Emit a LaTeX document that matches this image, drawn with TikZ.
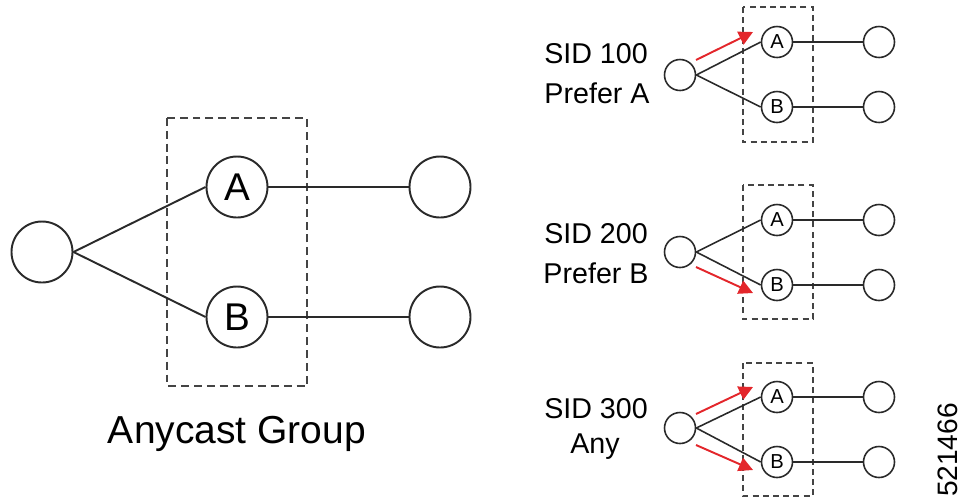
\documentclass[tikz,border=0pt]{standalone}
\usepackage{fontspec}
\setmainfont{Liberation Sans}
\usetikzlibrary{arrows.meta, calc, positioning}

\definecolor{anyred}{HTML}{E3262B}
\definecolor{boxgray}{HTML}{444444}
\definecolor{linkgray}{HTML}{2A2A2A}

\tikzset{
  bignode/.style={circle, draw=linkgray, line width=1.1pt, minimum size=1.22cm, inner sep=0pt, font=\fontsize{22}{22}\selectfont},
  smallnode/.style={circle, draw=linkgray, line width=0.9pt, minimum size=0.62cm, inner sep=0pt, font=\fontsize{11.5}{11.5}\selectfont},
  biglink/.style={draw=linkgray, line width=1.1pt},
  smalllink/.style={draw=linkgray, line width=0.9pt},
  biggroup/.style={draw=boxgray, line width=1.1pt, dash pattern=on 4.5pt off 2.8pt},
  smallgroup/.style={draw=boxgray, line width=0.9pt, dash pattern=on 3.4pt off 2.4pt},
  sidlabel/.style={anchor=base, font=\fontsize{16.3}{16.3}\selectfont},
  prefarrow/.style={draw=anyred, line width=1.1pt, -{Triangle[length=8pt,width=8pt]}}
}

\begin{document}
\begin{tikzpicture}
        \useasboundingbox (0,0) rectangle (19.28,-9.98);

        % anycast group
        \draw[biggroup] (3.34,-2.36) rectangle (6.14,-7.72);
        \node[bignode] (src) at (0.84,-5.04) {};
        \node[bignode] (a) at (4.74,-3.74) {A};
        \node[bignode] (b) at (4.74,-6.34) {B};
        \node[bignode] (ea) at (8.8,-3.74) {};
        \node[bignode] (eb) at (8.8,-6.34) {};
        \draw[biglink] (src.east) -- (a.west);
        \draw[biglink] (src.east) -- (b.west);
        \draw[biglink] (a) -- (ea);
        \draw[biglink] (b) -- (eb);
        \node[anchor=base, font=\fontsize{22.2}{22.2}\selectfont] (grp) at (4.74,-8.86) {Anycast Group};

        % SID 100
        \draw[smallgroup] (14.86,-0.14) rectangle (16.26,-2.84);
        \node[smallnode] (srcI) at (13.6,-1.5) {};
        \node[smallnode] (aI) at (15.54,-0.84) {A};
        \node[smallnode] (bI) at (15.54,-2.14) {B};
        \node[smallnode] (eaI) at (17.58,-0.84) {};
        \node[smallnode] (ebI) at (17.58,-2.14) {};
        \draw[smalllink] (srcI.east) -- (aI.west);
        \draw[smalllink] (srcI.east) -- (bI.west);
        \draw[smalllink] (aI) -- (eaI);
        \draw[smalllink] (bI) -- (ebI);
        \coordinate (pIs) at (13.92,-1.2);
        \coordinate (pIe) at (15.06,-0.64);
        \draw[prefarrow] (pIs) -- (pIe);
        \node[sidlabel] (sidI) at (11.92,-1.26) {SID 100};
        \node[sidlabel] (prefI) at (11.94,-2.06) {Prefer A};

        % SID 200
        \draw[smallgroup] (14.86,-3.7) rectangle (16.26,-6.38);
        \node[smallnode] (srcII) at (13.6,-5.04) {};
        \node[smallnode] (aII) at (15.54,-4.4) {A};
        \node[smallnode] (bII) at (15.54,-5.7) {B};
        \node[smallnode] (eaII) at (17.58,-4.4) {};
        \node[smallnode] (ebII) at (17.58,-5.7) {};
        \draw[smalllink] (srcII.east) -- (aII.west);
        \draw[smalllink] (srcII.east) -- (bII.west);
        \draw[smalllink] (aII) -- (eaII);
        \draw[smalllink] (bII) -- (ebII);
        \coordinate (pIIs) at (13.92,-5.34);
        \coordinate (pIIe) at (15.06,-5.86);
        \draw[prefarrow] (pIIs) -- (pIIe);
        \node[sidlabel] (sidII) at (11.92,-4.86) {SID 200};
        \node[sidlabel] (prefII) at (11.92,-5.66) {Prefer B};

        % SID 300
        \draw[smallgroup] (14.86,-7.26) rectangle (16.26,-9.92);
        \node[smallnode] (srcIII) at (13.6,-8.56) {};
        \node[smallnode] (aIII) at (15.54,-7.94) {A};
        \node[smallnode] (bIII) at (15.54,-9.24) {B};
        \node[smallnode] (eaIII) at (17.58,-7.94) {};
        \node[smallnode] (ebIII) at (17.58,-9.24) {};
        \draw[smalllink] (srcIII.east) -- (aIII.west);
        \draw[smalllink] (srcIII.east) -- (bIII.west);
        \draw[smalllink] (aIII) -- (eaIII);
        \draw[smalllink] (bIII) -- (ebIII);
        \coordinate (pIIIs) at (13.92,-8.28);
        \coordinate (pIIIe) at (15.06,-7.74);
        \coordinate (qIIIs) at (13.92,-8.9);
        \coordinate (qIIIe) at (15.06,-9.4);
        \draw[prefarrow] (pIIIs) -- (pIIIe);
        \draw[prefarrow] (qIIIs) -- (qIIIe);
        \node[sidlabel] (sidIII) at (11.92,-8.36) {SID 300};
        \node[sidlabel] (prefIII) at (11.9,-9.06) {Any};

        \node[rotate=90, font=\fontsize{16}{16}\selectfont] (fig) at (18.96,-9.0) {521466};
    \end{tikzpicture}
\end{document}
